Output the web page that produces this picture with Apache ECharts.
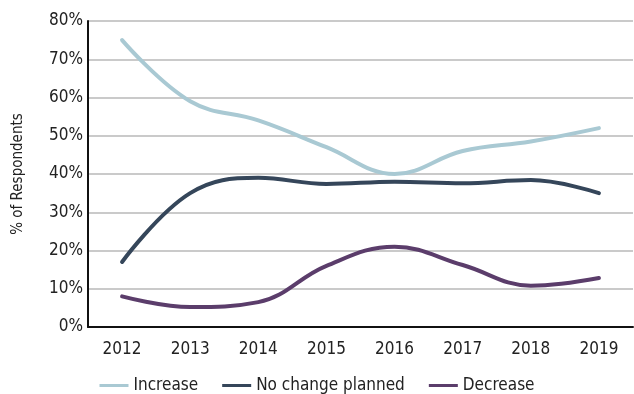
<!DOCTYPE html>
<html>
<head>
<meta charset="utf-8">
<script src="https://cdn.jsdelivr.net/npm/echarts@6/dist/echarts.min.js"></script>
<style>
  html, body { margin: 0; padding: 0; background: #fff; }
  #chart { width: 634px; height: 394px; }
</style>
</head>
<body>
<div id="chart"></div>
<script>
// Planned change in spending, share of respondents by year
const years = ['2012', '2013', '2014', '2015', '2016', '2017', '2018', '2019'];
const increase = [75, 59, 54, 47, 40, 46, 48.5, 52];
const noChange = [17, 35, 39, 37.4, 38, 37.6, 38.4, 35];
const decrease = [8, 5.2, 6.5, 16, 21, 16.2, 10.8, 12.8];
const yTicks = [0, 10, 20, 30, 40, 50, 60, 70, 80];

const FONT = '"DejaVu Sans Condensed", "Liberation Sans Narrow", sans-serif';

const lineSeries = (name, data, color) => ({
  name, type: 'line', data, smooth: 0.4, showSymbol: false, symbol: 'none',
  lineStyle: { color, width: 4, cap: 'round' }, itemStyle: { color }
});

const chart = echarts.init(document.getElementById('chart'));
chart.setOption({
  animation: false,
  grid: { left: 88, right: 1, top: 21, bottom: 67, containLabel: false, outerBoundsMode: 'none' },
  legend: {
    bottom: -5, left: 'center', itemWidth: 29, itemHeight: 3, itemGap: 24,
    icon: 'rect',
    textStyle: { fontFamily: FONT, fontSize: 17, color: '#222' },
    data: ['Increase', 'No change planned', 'Decrease']
  },
  xAxis: {
    type: 'category', data: years, boundaryGap: true,
    axisLine: { lineStyle: { color: '#111', width: 2 } },
    axisTick: { show: false },
    axisLabel: { fontFamily: FONT, fontSize: 17, color: '#222', margin: 14 }
  },
  yAxis: {
    type: 'value', min: yTicks[0], max: yTicks[yTicks.length - 1], interval: 10,
    name: '% of Respondents', nameLocation: 'middle', nameGap: 62,
    nameTextStyle: { fontFamily: FONT, fontSize: 15, color: '#222' },
    axisLine: { show: true, lineStyle: { color: '#111', width: 2 } },
    axisTick: { show: false },
    axisLabel: { fontFamily: FONT, fontSize: 17, color: '#222', margin: 5, formatter: v => v + '%' },
    splitLine: { lineStyle: { color: '#b8b8b8', width: 1.5 } }
  },
  series: [
    lineSeries('Increase', increase, '#a9c9d3'),
    lineSeries('No change planned', noChange, '#35465a'),
    lineSeries('Decrease', decrease, '#5b3d6b')
  ]
});
</script>
</body>
</html>
